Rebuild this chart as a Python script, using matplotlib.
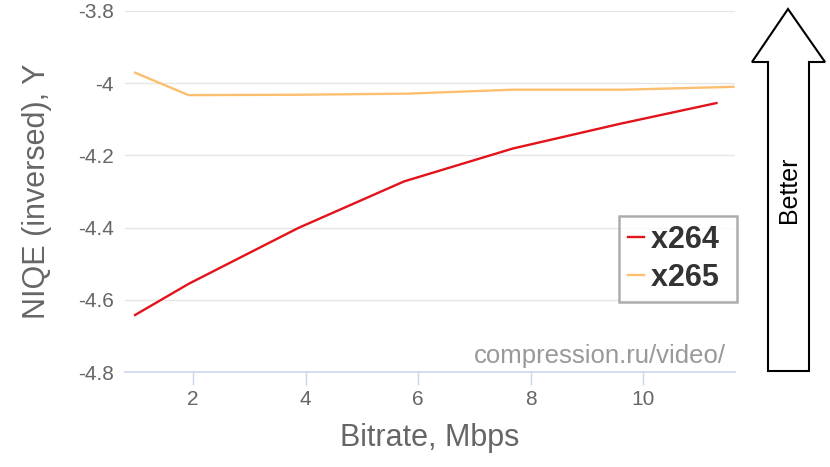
import matplotlib.pyplot as plt
from matplotlib.patches import Polygon

plt.rcParams['font.family'] = ['Liberation Sans', 'DejaVu Sans']

# bitrate (Mbps) and inversed NIQE values
x264_bitrate = [0.97, 1.93, 3.87, 5.75, 7.68, 9.6, 11.3]
x264_niqe = [-4.642, -4.555, -4.401, -4.272, -4.181, -4.112, -4.055]
x265_bitrate = [0.97, 1.92, 3.85, 5.8, 7.68, 9.65, 11.6]
x265_niqe = [-3.971, -4.033, -4.032, -4.029, -4.018, -4.018, -4.010]

y_ticks = [-4.8, -4.6, -4.4, -4.2, -4.0, -3.8]
y_labels = ['-4.8', '-4.6', '-4.4', '-4.2', '-4', '-3.8']
x_ticks = [2, 4, 6, 8, 10]

W, H = 830, 467
fig = plt.figure(figsize=(W / 100, H / 100), dpi=100)
ax = fig.add_axes([125 / W, 1 - 372 / H, 610 / W, 361 / H])

ax.plot(x264_bitrate, x264_niqe, color='#e3121b', lw=1.7, label='x264 ')
ax.plot(x265_bitrate, x265_niqe, color='#fdbf6f', lw=1.7, label='x265 ')

ax.set_xlim(0.79, 11.63)
ax.set_ylim(-4.8, -3.8)
ax.set_yticks(y_ticks)
ax.set_yticklabels(y_labels)
ax.set_xticks(x_ticks)
ax.grid(axis='y', color='#e6e6e6', lw=1)
ax.set_axisbelow(True)
for s in ['top', 'right', 'left']:
    ax.spines[s].set_visible(False)
ax.spines['bottom'].set_color('#ccd6eb')
ax.spines['bottom'].set_linewidth(1.2)
ax.tick_params(axis='both', labelsize=15, labelcolor='#666666')
ax.tick_params(axis='x', length=9, width=1, color='#ccd6eb', pad=4)
ax.tick_params(axis='y', length=0, pad=8)

ax.set_xlabel('Bitrate, Mbps', fontsize=22, color='#666666', labelpad=10)
ax.set_ylabel('NIQE (inversed), Y', fontsize=22, color='#666666', labelpad=19)

leg = ax.legend(loc='lower right', bbox_to_anchor=(1.003, 0.194), frameon=True,
                fancybox=False, shadow=False, handlelength=0.52, handletextpad=0.23,
                borderpad=0.3, labelspacing=0.26, borderaxespad=0,
                prop={'size': 22, 'weight': 'bold'})
leg.get_frame().set_edgecolor('#999999')
leg.get_frame().set_linewidth(1.8)
for t in leg.get_texts():
    t.set_color('#333333')

ax.text(0.985, 0.012, 'compression.ru/video/', transform=ax.transAxes,
        ha='right', va='bottom', fontsize=18.5, color='#999999')

# "Better" arrow on the right
pts = [(768, 371), (809, 371), (809, 62), (825, 62), (788, 9), (752, 62), (768, 62)]
arrow = Polygon([(px / W, 1 - py / H) for px, py in pts], closed=True,
                transform=fig.transFigure, facecolor='white', edgecolor='black', lw=1.5)
fig.patches.append(arrow)
fig.text(789 / W, 1 - 190 / H, 'Better', rotation=90, ha='center', va='center',
         fontsize=18, color='black')

fig.savefig('out.png', dpi=100)
